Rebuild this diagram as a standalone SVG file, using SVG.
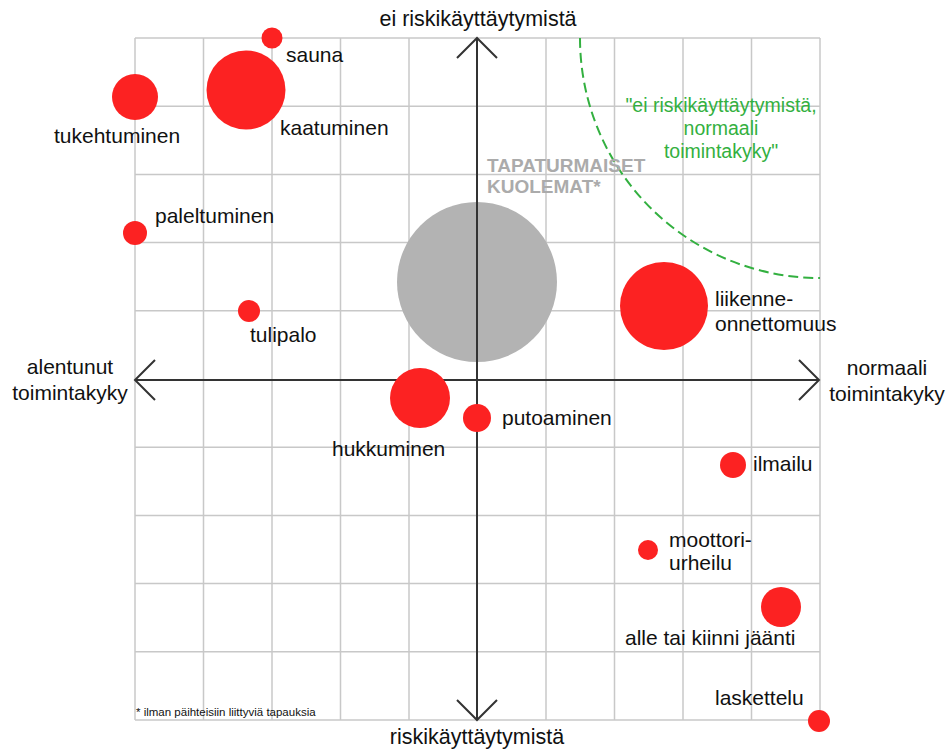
<svg xmlns="http://www.w3.org/2000/svg" width="948" height="749" viewBox="0 0 948 749">
<style>
text{font-family:"Liberation Sans",Arial,sans-serif;fill:#111;}
.lbl{font-size:21px;}
.ax{font-size:21px;text-anchor:middle;}
.grid line{stroke:#c8c8c8;stroke-width:1.5;}
.axis{stroke:#333;stroke-width:2;fill:none;}
.red{fill:#fc2222;}
.gray{fill:#b3b3b3;}
.gt{font-size:19.5px;fill:#33b040;text-anchor:middle;}
.tk{font-size:19px;font-weight:bold;fill:#ababab;}
</style>
<rect width="948" height="749" fill="#fff"/>
<g class="grid">
<line x1="135" y1="38" x2="135" y2="720"/><line x1="203.5" y1="38" x2="203.5" y2="720"/><line x1="272" y1="38" x2="272" y2="720"/><line x1="340.5" y1="38" x2="340.5" y2="720"/><line x1="409" y1="38" x2="409" y2="720"/><line x1="546" y1="38" x2="546" y2="720"/><line x1="614.5" y1="38" x2="614.5" y2="720"/><line x1="683" y1="38" x2="683" y2="720"/><line x1="751.5" y1="38" x2="751.5" y2="720"/><line x1="820" y1="38" x2="820" y2="720"/>
<line x1="135" y1="38" x2="820" y2="38"/><line x1="135" y1="106.2" x2="820" y2="106.2"/><line x1="135" y1="174.4" x2="820" y2="174.4"/><line x1="135" y1="242.6" x2="820" y2="242.6"/><line x1="135" y1="310.8" x2="820" y2="310.8"/><line x1="135" y1="447.2" x2="820" y2="447.2"/><line x1="135" y1="515.4" x2="820" y2="515.4"/><line x1="135" y1="583.6" x2="820" y2="583.6"/><line x1="135" y1="651.8" x2="820" y2="651.8"/><line x1="135" y1="720" x2="820" y2="720"/>
</g>
<g id="zone">
<path d="M580,38 A240,240 0 0 0 820,278" fill="none" stroke="#33b040" stroke-width="2" stroke-dasharray="10,5"/>
<text class="gt" x="721" y="112">"ei riskikäyttäytymistä,</text>
<text class="gt" x="721" y="135">normaali</text>
<text class="gt" x="721" y="158">toimintakyky"</text>
</g>
<g id="kuolemat">
<circle class="gray" cx="477" cy="282" r="80"/>
<text class="tk" x="487" y="172">TAPATURMAISET</text>
<text class="tk" x="487" y="193">KUOLEMAT*</text>
</g>
<g id="axes">
<line class="axis" x1="477" y1="38" x2="477" y2="720"/>
<polyline class="axis" points="457,58 477,38 497,58"/>
<polyline class="axis" points="457,700 477,720 497,700"/>
<line class="axis" x1="135" y1="380" x2="819" y2="380"/>
<polyline class="axis" points="155,360 135,380 155,400"/>
<polyline class="axis" points="799,360 819,380 799,400"/>
<text class="ax" x="478" y="26" style="font-size:21.5px">ei riskikäyttäytymistä</text>
<text class="ax" x="477" y="744" style="font-size:21.5px">riskikäyttäytymistä</text>
<text class="ax" x="70" y="374">alentunut</text>
<text class="ax" x="70" y="400">toimintakyky</text>
<text class="ax" x="887" y="375">normaali</text>
<text class="ax" x="887" y="401">toimintakyky</text>
</g>
<g id="sauna"><circle class="red" cx="272" cy="38" r="10.5"/><text class="lbl" x="286" y="62">sauna</text></g>
<g id="kaatuminen"><circle class="red" cx="246" cy="90" r="39.5"/><text class="lbl" x="280" y="135">kaatuminen</text></g>
<g id="tukehtuminen"><circle class="red" cx="135" cy="97" r="23"/><text class="lbl" x="54" y="143">tukehtuminen</text></g>
<g id="paleltuminen"><circle class="red" cx="135" cy="233" r="12"/><text class="lbl" x="155" y="223">paleltuminen</text></g>
<g id="tulipalo"><circle class="red" cx="249" cy="311" r="11"/><text class="lbl" x="250" y="342">tulipalo</text></g>
<g id="liikenneonnettomuus"><circle class="red" cx="664" cy="306" r="44"/><text class="lbl" x="715" y="306">liikenne-</text><text class="lbl" x="715" y="331">onnettomuus</text></g>
<g id="hukkuminen"><circle class="red" cx="420" cy="398" r="30"/><text class="lbl" x="332" y="456">hukkuminen</text></g>
<g id="putoaminen"><circle class="red" cx="477" cy="418" r="14"/><text class="lbl" x="502" y="425">putoaminen</text></g>
<g id="ilmailu"><circle class="red" cx="733" cy="465" r="13"/><text class="lbl" x="753" y="471">ilmailu</text></g>
<g id="moottoriurheilu"><circle class="red" cx="648" cy="550" r="10"/><text class="lbl" x="669" y="547">moottori-</text><text class="lbl" x="669" y="570">urheilu</text></g>
<g id="alle"><circle class="red" cx="781" cy="607" r="20"/><text class="lbl" x="625" y="645">alle tai kiinni jäänti</text></g>
<g id="laskettelu"><circle class="red" cx="819" cy="721" r="11"/><text class="lbl" x="715" y="705">laskettelu</text></g>
<text x="136" y="716" style="font-size:11.5px">* ilman päihteisiin liittyviä tapauksia</text>
</svg>
